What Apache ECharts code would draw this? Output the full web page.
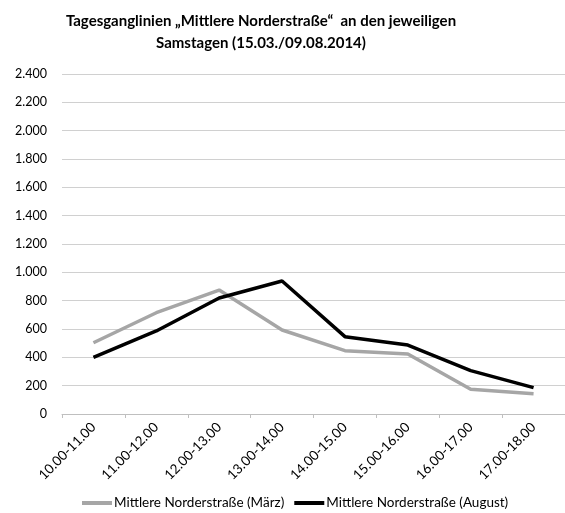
<!DOCTYPE html>
<html><head><meta charset="utf-8">
<script src="https://cdn.jsdelivr.net/npm/echarts@6/dist/echarts.min.js"></script>
<style>html,body{margin:0;padding:0;background:#fff}#c{width:565px;height:513px}</style>
</head><body><div id="c"></div>
<script>
const categories = ['10.00-11.00','11.00-12.00','12.00-13.00','13.00-14.00','14.00-15.00','15.00-16.00','16.00-17.00','17.00-18.00'];
const maerz = [503, 715, 875, 593, 447, 424, 174, 143];
const august = [400, 586, 819, 939, 546, 487, 306, 186];
const seriesNames = ['Mittlere Norderstraße (März)', 'Mittlere Norderstraße (August)'];
const titleText = 'Tagesganglinien „Mittlere Norderstraße“  an den jeweiligen\nSamstagen (15.03./09.08.2014)';

const font = 'Lato, "Open Sans", sans-serif';
const chart = echarts.init(document.getElementById('c'), null, {renderer: 'canvas'});
chart.setOption({
  animation: false,
  backgroundColor: '#fff',
  title: {
    text: titleText,
    left: 256, top: 5, textAlign: 'center',
    textStyle: {fontFamily: font, fontWeight: 'bold', fontSize: 15, lineHeight: 22, color: '#000'}
  },
  legend: {
    bottom: 3, left: 82, padding: 0,
    itemWidth: 30, itemHeight: 4, itemGap: 10,
    icon: 'rect',
    textStyle: {fontFamily: font, fontSize: 13.5, color: '#000', padding: [0,0,0,-3]},
    data: seriesNames
  },
  grid: {left: 62, top: 74, width: 512, height: 340, containLabel: false},
  xAxis: {
    type: 'category', data: categories, boundaryGap: true,
    axisLine: {lineStyle: {color: '#bfbfbf', width: 1}},
    axisTick: {show: true, length: 4, lineStyle: {color: '#bfbfbf'}},
    axisLabel: {rotate: 45, fontFamily: font, fontSize: 13.5, color: '#000', margin: 11, interval: 0}
  },
  yAxis: {
    type: 'value', min: 0, max: 2400, interval: 200,
    axisLine: {show: false}, axisTick: {show: false},
    splitLine: {lineStyle: {color: '#d0d0d0', width: 1}},
    axisLabel: {
      fontFamily: font, fontSize: 12.5, color: '#000', margin: 15,
      formatter: v => v.toLocaleString('de-DE')
    }
  },
  series: [
    {name: seriesNames[0], type: 'line', data: maerz, symbol: 'none',
     lineStyle: {color: '#a6a6a6', width: 3.5}, itemStyle: {color: '#a6a6a6'}},
    {name: seriesNames[1], type: 'line', data: august, symbol: 'none',
     lineStyle: {color: '#000', width: 3.5}, itemStyle: {color: '#000'}}
  ]
});
</script></body></html>
